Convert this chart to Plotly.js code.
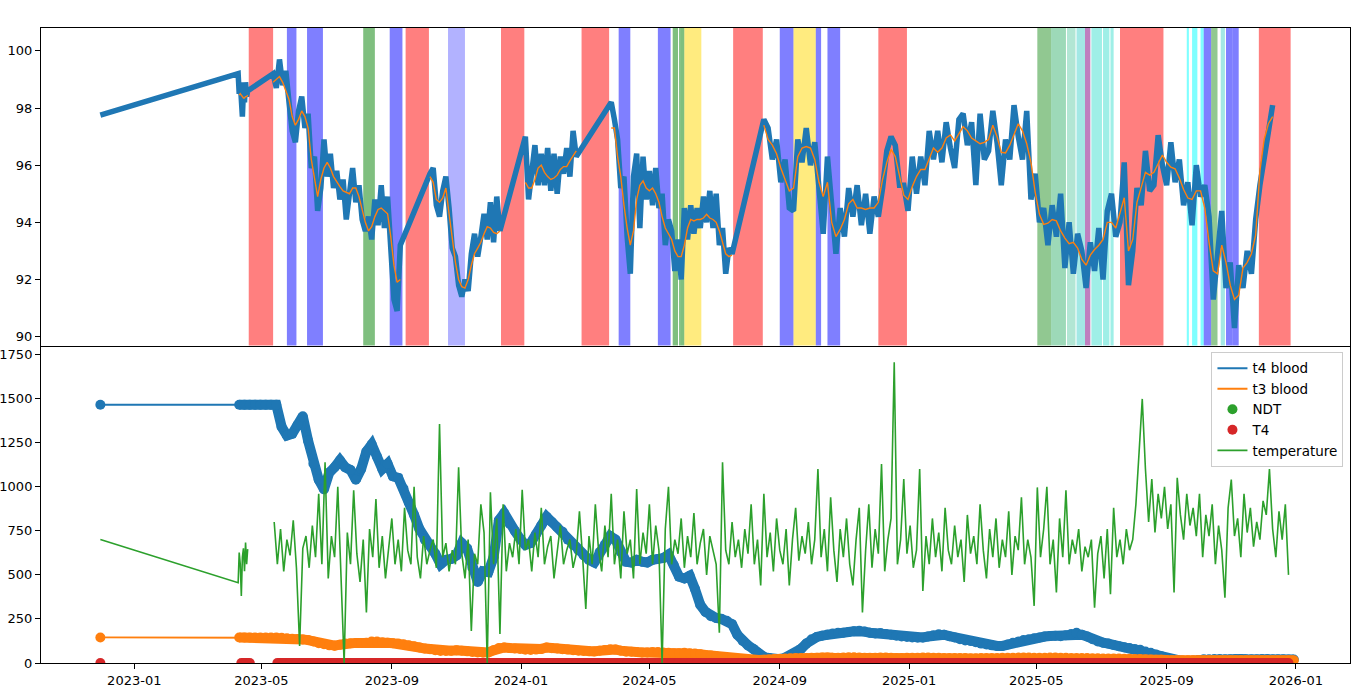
<!DOCTYPE html>
<html>
<head>
<meta charset="utf-8">
<script src="https://cdn.plot.ly/plotly-3.0.1.min.js"></script>
<style>
  html, body { margin: 0; padding: 0; background: #fff; }
  #chart { width: 1366px; height: 691px; }
</style>
</head>
<body>
<div id="chart"></div>
<script>
// Weight (top panel) and blood / temperature (bottom panel).
// Dense series are kept as runs of values sampled every `step` days from a start date.

// ---- top panel: shaded periods ----
const bandStart = ['2023-04-19','2023-05-25','2023-06-13','2023-08-05','2023-08-30','2023-09-14','2023-10-24','2023-12-13',
  '2024-02-27','2024-04-02','2024-05-09','2024-05-23','2024-05-29','2024-05-30','2024-06-03','2024-07-19','2024-09-01',
  '2024-09-14','2024-10-05','2024-10-16','2024-12-03','2025-05-02','2025-05-15','2025-05-30','2025-06-08','2025-06-16',
  '2025-06-22','2025-07-03','2025-07-10','2025-07-19','2025-09-20','2025-09-25','2025-10-03','2025-10-06','2025-10-13',
  '2025-10-22','2025-10-27','2025-11-02','2025-11-27'];
const bandEnd = ['2023-05-12','2023-06-03','2023-06-28','2023-08-16','2023-09-11','2023-10-06','2023-11-09','2024-01-04',
  '2024-03-24','2024-04-13','2024-05-21','2024-05-28','2024-05-30','2024-06-03','2024-06-19','2024-08-16','2024-09-14',
  '2024-10-05','2024-10-10','2024-10-28','2024-12-30','2025-05-15','2025-05-29','2025-06-07','2025-06-16','2025-06-21',
  '2025-07-02','2025-07-09','2025-07-13','2025-08-29','2025-09-22','2025-09-30','2025-10-06','2025-10-13','2025-10-19',
  '2025-10-26','2025-11-02','2025-11-08','2025-12-27'];
const bandKind = ['red','blue','blue','green','blue','red','lavender','red',
  'red','blue','blue','green','green','green','yellow','red','blue',
  'yellow','blue','blue','red','green2','seagreen','aquamarine','mturquoise','purple',
  'turquoise','turquoise','turquoise','red','cyan','cyan','cyan','blue','green2',
  'mturquoise','blue','blue','red'];

// ---- top panel: weight (thick) and its smoothed curve (thin) ----
const earlyDates = ['2022-11-30','2023-04-09','2023-04-10','2023-04-11','2023-04-12','2023-04-13',
  '2023-04-14','2023-04-15','2023-04-16','2023-04-17','2023-04-18'];
const earlyWeight = [97.75, 99.2, 98.5, 98.9, 98.3, 97.7, 98.6, 98.2, 98.9, 98.4, 98.6];
const earlySmooth = [null, null, 98.45, 98.5, 98.45, 98.4, 98.35, 98.35, 98.4, 98.4, 98.45];

const segStart = ['2023-05-12', '2023-10-07', '2024-01-05', '2024-03-26', '2024-08-17'];
const segStep = [3, 3, 3, 3, 4];

const weightB = [99.2, 98.7, 99.7, 98.8, 99.3, 98.2, 97.2, 96.8, 97.9, 98.4, 97.3, 97.8, 95.9, 96.3, 94.4, 95.2,
  96.9, 95.6, 96.4, 95.2, 95.8, 94.8, 95.5, 94.1, 95.2, 95.9, 94.7, 95.3, 94.1, 93.7, 94.2, 93.4, 94.8, 93.9,
  95.3, 93.8, 94.9, 92.9, 91.3, 90.9, 93.2];
const smoothB = [98.9, 99.0, 99.1, 98.9, 98.6, 98.3, 97.7, 97.4, 97.6, 97.9, 97.7, 97.3, 96.2, 95.5, 94.9, 95.5,
  95.9, 96.1, 95.9, 95.6, 95.4, 95.25, 95.1, 95.05, 95.0, 95.2, 95.2, 94.9, 94.4, 94.0, 93.7, 93.85, 94.2, 94.45,
  94.5, 94.4, 94.3, 93.5, 92.5, 91.9, 92.0];
const weightC = [95.7, 95.9, 94.6, 94.2, 95.1, 95.6, 94.5, 93.1, 92.8, 91.8, 91.4, 92.0, 91.6, 92.9, 93.6, 92.8,
  93.5, 94.3, 93.4, 94.7, 93.3, 94.9, 93.7];
const smoothC = [95.6, 95.4, 94.8, 94.7, 94.85, 95.2, 94.3, 93.5, 92.6, 92.0, 91.75, 91.7, 92.0, 92.5, 92.9, 93.1,
  93.3, 93.6, 93.85, 93.8, 93.65, 93.6, 93.7];
const weightD = [97.0, 94.8, 95.6, 96.7, 95.3, 96.4, 95.3, 96.6, 95.1, 96.4, 95.0, 96.3, 95.7, 96.6, 95.6, 97.2, 96.3];
const smoothD = [95.4, 95.2, 95.2, 95.5, 95.9, 96.0, 95.75, 95.6, 95.5, 95.55, 95.65, 95.85, 95.95, 95.95, 96.15,
  96.35, 96.5];
const weightE = [98.2, 97.6, 96.9, 95.2, 95.6, 93.5, 92.2, 95.6, 96.4, 93.8, 96.3, 94.8, 95.8, 94.6, 95.9, 94.5,
  95.0, 93.2, 94.1, 93.7, 92.3, 93.4, 92.0, 94.5, 93.4, 94.6, 93.6, 94.5, 93.8, 94.9, 94.0, 95.1, 93.8, 95.0,
  93.2, 93.8, 92.2, 93.1, 92.9];
const smoothE = [97.3, 97.3, 96.3, 95.6, 94.6, 93.8, 93.2, 93.7, 94.8, 95.3, 95.45, 95.2, 95.1, 95.2, 95.0, 94.7,
  94.2, 93.8, 93.6, 93.4, 93.0, 92.8, 92.8, 93.2, 93.8, 94.1, 94.05, 94.1, 94.1, 94.15, 94.28, 94.15, 94.1, 94.0,
  93.7, 93.3, 92.9, 92.8, 92.85];
const weightF = [
  97.6, 97.3, 96.2, 96.9, 95.4, 96.2, 94.5, 94.4, 96.9, 96.1,
  97.3, 96.0, 96.8, 95.2, 93.6, 96.3, 94.8, 92.9, 94.5, 93.5,
  95.2, 94.2, 95.3, 93.9, 95.0, 93.6, 94.9, 94.2, 95.2, 96.5,
  97.0, 96.7, 95.3, 95.3, 94.4, 96.3, 95.0, 96.3, 95.3, 97.2,
  96.2, 97.2, 96.1, 97.5, 96.6, 95.9, 97.6, 97.8, 96.7, 97.5,
  95.3, 97.8, 96.2, 96.5, 97.9, 96.8, 95.3, 96.9, 96.2, 98.1,
  97.0, 96.2, 97.9, 94.8, 95.7, 94.0, 94.5, 93.2, 94.6, 93.5,
  95.0, 92.4, 94.0, 92.2, 93.6, 93.0, 91.7, 93.3, 92.3, 93.8,
  92.0, 94.4, 95.0, 93.5, 94.0, 96.1, 91.8, 93.0, 95.2, 94.6,
  96.5, 95.1, 95.3, 97.05, 96.0, 95.3, 96.8, 95.4, 96.2, 94.6,
  95.4, 93.9, 96.0, 94.9, 95.3, 94.2, 91.3, 92.8, 94.4, 91.7,
  92.6, 90.3, 92.5, 91.7, 93.0, 92.2, 94.1, 95.3, 96.3, 97.1,
  98.1];
const smoothF = [
  97.4, 96.9, 96.7, 96.4, 95.9, 95.5, 95.1, 95.2, 96.3, 96.6,
  96.65, 96.6, 96.2, 95.4, 94.9, 95.4, 94.0, 93.5, 93.75, 94.1,
  94.65, 94.8, 94.5, 94.5, 94.45, 94.5, 94.5, 94.7, 95.5, 96.1,
  96.55, 96.3, 95.65, 94.95, 94.8, 95.25, 95.6, 95.85, 95.85, 96.2,
  96.6, 96.45, 96.6, 96.95, 97.06, 96.85, 97.1, 97.35, 97.2, 96.95,
  96.85, 96.75, 96.8, 96.9, 97.4, 97.0, 96.45, 96.43, 96.7, 97.05,
  97.45, 97.2, 96.75, 96.1, 95.05, 94.28, 93.93, 93.97, 94.1, 94.05,
  93.7, 93.45, 93.25, 93.3, 93.1, 92.7, 92.5, 92.85, 93.05, 93.2,
  93.4, 94.0, 94.0, 93.8, 94.3, 94.86, 93.0, 93.4, 94.7, 95.2,
  95.75, 95.65, 95.75, 96.05, 96.35, 96.1, 95.93, 95.87, 95.55, 95.15,
  94.85, 94.8, 95.1, 95.1, 94.5, 93.3, 92.3, 92.2, 93.2, 92.6,
  91.8, 91.3, 91.45, 92.4, 92.6, 92.9, 93.55, 95.8, 96.9, 97.45,
  97.7];

// ---- bottom panel: blood levels (first value on 2022-11-30, then every 5 days from 2023-04-10) ----
const bloodFirstDate = '2022-11-30';
const bloodStart = '2023-04-10';
const bloodStep = 5;
const t4Blood = [1465,
  1465, 1465, 1465, 1465, 1465, 1465, 1465, 1465, 1340, 1290,
  1300, 1350, 1400, 1260, 1130, 1040, 985, 1080, 1110, 1150,
  1110, 1095, 1040, 1100, 1200, 1240, 1170, 1100, 1130, 1060,
  1050, 990, 910, 840, 760, 700, 665, 620, 560, 585,
  590, 610, 680, 650, 540, 460, 520, 515, 600, 810,
  850, 790, 750, 705, 670, 680, 730, 780, 830, 800,
  770, 745, 700, 670, 640, 610, 585, 570, 630, 670,
  720, 700, 630, 575, 570, 585, 575, 570, 585, 590,
  595, 615, 555, 490, 480, 495, 420, 330, 290, 265,
  255, 250, 240, 220, 160, 125, 100, 80, 55, 35,
  28, 22, 22, 30, 42, 55, 80, 110, 135, 148,
  155, 162, 168, 172, 172, 176, 180, 183, 178, 172,
  168, 170, 165, 160, 155, 150, 148, 145, 143, 145,
  150, 158, 163, 160, 152, 145, 135, 128, 125, 118,
  110, 105, 100, 97, 97, 105, 115, 122, 130, 135,
  140, 145, 150, 153, 155, 152, 158, 165, 172, 160,
  150, 135, 122, 115, 110, 102, 95, 90, 85, 80,
  75, 65, 58, 48, 38, 28, 20, 14, 11, 11,
  13, 17, 21, 21, 22, 22, 21, 21, 22, 22,
  21, 21, 21, 22, 22, 21, 21, 21, 20, 20];
const t3Blood = [145,
  145, 145, 145, 145, 145, 145, 145, 145,
  143, 140, 138, 136, 134, 130, 122, 112, 106, 100,
  98, 104, 110, 112, 114, 113, 115, 122, 122, 118,
  115, 112, 110, 106, 100, 95, 88, 82, 78, 72,
  68, 68, 70, 72, 70, 66, 62, 60, 58, 60,
  72, 85, 88, 85, 82, 80, 75, 74, 76, 80,
  88, 84, 82, 78, 76, 72, 70, 68, 66, 66,
  70, 74, 78, 76, 70, 64, 64, 62, 60, 60,
  62, 62, 60, 58, 56, 56, 58, 56, 54, 50,
  46, 42, 38, 34, 30, 26, 22, 20, 18, 17,
  17, 18, 20, 22, 24, 26, 27, 28, 28, 29,
  30, 30, 31, 31, 30, 30, 31, 32, 32, 31,
  30, 30, 30, 31, 31, 30, 29, 29, 30, 30,
  30, 31, 31, 30, 30, 29, 29, 28, 28, 28,
  27, 27, 28, 28, 29, 29, 30, 30, 30, 31,
  31, 31, 30, 30, 30, 31, 31, 30, 30, 29,
  29, 28, 28, 27, 27, 26, 26, 25, 25, 24,
  24, 23, 22, 21, 20, 19, 18, 17, 16, 16,
  15, 15, 15, 15, 15, 15, 15, 15, 15, 15,
  15, 15, 15, 15, 15, 15, 15, 15, 15, 15, 15, 15];

// ---- bottom panel: T4 doses (on the axis) ----
const doseEarlyDates = ['2022-11-30', '2023-04-12', '2023-04-16', '2023-04-20'];
const doseStart = '2023-05-16';
const doseStep = 6;
const t4DoseEarly = [0, 0, 0, 0];
const t4Dose = [
  0,0,0,0,0,0,0,0,0,0, 0,0,0,0,0,0,0,0,0,0, 0,0,0,0,0,0,0,0,0,0, 0,0,0,0,0,0,0,0,0,0,
  0,0,0,0,0,0,0,0,0,0, 0,0,0,0,0,0,0,0,0,0, 0,0,0,0,0,0,0,0,0,0, 0,0,0,0,0,0,0,0,0,0,
  0,0,0,0,0,0,0,0,0,0, 0,0,0,0,0,0,0,0,0,0, 0,0,0,0,0,0,0,0,0,0, 0,0,0,0,0,0,0,0,0,0,
  0,0,0,0,0,0,0,0,0,0, 0,0,0,0,0,0,0,0,0,0, 0,0,0,0,0,0,0,0,0,0, 0,0,0,0,0,0,0,0,0,0];

// ---- bottom panel: temperature ----
const tempEarly = [700, 455, 627, 560, 380, 600, 650, 520, 684, 560, 646];
const tempStart = '2023-05-13';
const tempStep = 3;
const temperature = [
  800, 560, 760, 520, 700, 610, 810, 540, 97, 650,
  720, 540, 780, 600, 960, 560, 1138, 480, 720, 600,
  1000, 520, 0, 740, 560, 980, 620, 460, 700, 286,
  760, 600, 930, 540, 720, 480, 650, 820, 560, 700,
  520, 880, 640, 560, 1000, 600, 480, 720, 560, 640,
  700, 540, 1356, 600, 680, 520, 640, 560, 1110, 620,
  480, 700, 182, 620, 560, 900, 740, 0, 968, 560,
  820, 165, 900, 520, 680, 600, 760, 560, 982, 640,
  700, 520, 740, 600, 880, 560, 660, 720, 480, 640,
  780, 560, 640, 700, 540, 620, 860, 600, 307, 720,
  560, 900, 640, 520, 780, 600, 960, 560, 700, 480,
  860, 620, 700, 480, 987, 560, 740, 620, 900, 560,
  780, 640, 0, 760, 1000, 560, 700, 620, 820, 540,
  720, 600, 850, 560, 680, 760, 500, 720, 640, 560,
  172, 1138, 640, 560, 800, 600, 700, 540, 760, 620,
  900, 560, 700, 440, 960, 600, 740, 520, 820, 640,
  560, 760, 440, 700, 880, 580, 720, 620, 800, 560,
  700, 1100, 600, 760, 520, 940, 640, 460, 760, 600,
  820, 560, 440, 700, 880, 286, 640, 900, 540, 760,
  620, 1129, 520, 700, 820, 1706, 560, 700, 1044, 620,
  780, 540, 640, 1100, 409, 720, 560, 820, 600, 740,
  520, 880, 640, 560, 780, 600, 700, 460, 840, 620,
  720, 560, 900, 640, 480, 760, 600, 820, 540, 700,
  600, 860, 500, 720, 640, 940, 560, 700, 600, 324,
  996, 600, 760, 1000, 560, 700, 400, 820, 600, 980,
  560, 700, 620, 760, 520, 660, 600, 700, 314, 620,
  720, 480, 760, 390, 880, 600, 700, 560, 760, 640,
  700, 900, 1195, 1498, 1100, 800, 1044, 740, 960, 820,
  1000, 760, 900, 400, 1050, 840, 700, 960, 780, 880,
  720, 960, 600, 840, 720, 900, 560, 780, 640, 371,
  880, 1040, 720, 820, 600, 960, 740, 880, 660, 800,
  700, 920, 840, 1100, 760, 600, 860, 700, 900, 500];

// ---- styling ----
const BAND_COLORS = {
  red: 'rgba(255,0,0,0.5)',
  blue: 'rgba(0,0,255,0.5)',
  lavender: 'rgba(0,0,255,0.3)',
  green: 'rgba(0,128,0,0.5)',
  green2: 'rgba(0,128,0,0.43)',
  yellow: 'rgba(255,215,0,0.5)',
  seagreen: 'rgba(60,179,113,0.5)',
  aquamarine: 'rgba(102,205,170,0.5)',
  mturquoise: 'rgba(72,209,204,0.5)',
  purple: 'rgba(128,0,128,0.5)',
  turquoise: 'rgba(64,224,208,0.5)',
  cyan: 'rgba(0,255,255,0.5)',
};
const C_BLUE = '#1f77b4', C_ORANGE = '#ff7f0e', C_GREEN = '#2ca02c', C_RED = '#d62728';
const FONT = 'DejaVu Sans, Liberation Sans, sans-serif';
const DOT = 10;   // marker diameter of the dense daily series

function addDays(iso, n) {
  const t = Date.parse(iso + 'T00:00:00Z') + n * 86400000;
  return new Date(t).toISOString().slice(0, 10);
}
const stepped = (start, step, values) => values.map((_, i) => addDays(start, i * step));

// assemble top series
const segWeight = [weightB, weightC, weightD, weightE, weightF];
const segSmooth = [smoothB, smoothC, smoothD, smoothE, smoothF];
const weightX = [...earlyDates], weightY = [...earlyWeight];
const smoothX = [...earlyDates], smoothY = [...earlySmooth];
segStart.forEach((start, i) => {
  const dates = stepped(start, segStep[i], segWeight[i]);
  weightX.push(...dates);
  weightY.push(...segWeight[i]);
  smoothX.push(start);          // break the smoothed curve across the gap
  smoothY.push(null);
  smoothX.push(...dates);
  smoothY.push(...segSmooth[i]);
});

// bottom series
const denseBloodX = stepped(bloodStart, bloodStep, t4Blood.slice(1));
const bloodX = [bloodFirstDate, ...denseBloodX];
const denseDoseX = stepped(doseStart, doseStep, t4Dose);
const doseX = [...doseEarlyDates, ...denseDoseX];
const doseY = [...t4DoseEarly, ...t4Dose];
const doseBandX = [...doseEarlyDates.slice(1), doseStart, ...denseDoseX];
const doseBandY = [...t4DoseEarly.slice(1), null, ...t4Dose];
const tempX = [...earlyDates, tempStart, ...stepped(tempStart, tempStep, temperature)];
const tempY = [...tempEarly, null, ...temperature];

const shapes = bandStart.map((s, i) => ({
  type: 'rect', xref: 'x', yref: 'y domain', x0: s, x1: bandEnd[i], y0: 0, y1: 1,
  fillcolor: BAND_COLORS[bandKind[i]], line: { width: 0 }, layer: 'below',
}));

// daily readings sit so close that their dots merge into one band: draw that band as a thick line
const band = (x, y, color) => ({
  type: 'scatter', mode: 'lines', x, y, xaxis: 'x2', yaxis: 'y2', connectgaps: false,
  line: { color, width: DOT, shape: 'linear' }, showlegend: false, hoverinfo: 'skip',
});

const data = [
  { type: 'scatter', mode: 'lines', x: weightX, y: weightY, xaxis: 'x', yaxis: 'y',
    line: { color: C_BLUE, width: 5.5 }, showlegend: false, hoverinfo: 'skip' },
  { type: 'scatter', mode: 'lines', x: smoothX, y: smoothY, xaxis: 'x', yaxis: 'y',
    line: { color: C_ORANGE, width: 1.4 }, connectgaps: false, showlegend: false, hoverinfo: 'skip' },
  band(denseBloodX, t4Blood.slice(1), C_BLUE),
  { type: 'scatter', mode: 'lines+markers', x: bloodX, y: t4Blood, xaxis: 'x2', yaxis: 'y2',
    line: { color: C_BLUE, width: 1.8 }, marker: { color: C_BLUE, size: DOT }, showlegend: false },
  band(denseBloodX, t3Blood.slice(1), C_ORANGE),
  { type: 'scatter', mode: 'lines+markers', x: bloodX, y: t3Blood, xaxis: 'x2', yaxis: 'y2',
    line: { color: C_ORANGE, width: 1.8 }, marker: { color: C_ORANGE, size: DOT }, showlegend: false },
  { type: 'scatter', mode: 'lines', name: 't4 blood', x: [null], y: [null], xaxis: 'x2', yaxis: 'y2',
    line: { color: C_BLUE, width: 2 } },
  { type: 'scatter', mode: 'lines', name: 't3 blood', x: [null], y: [null], xaxis: 'x2', yaxis: 'y2',
    line: { color: C_ORANGE, width: 2 } },
  { type: 'scatter', mode: 'markers', name: 'NDT', x: [null], y: [null], xaxis: 'x2', yaxis: 'y2',
    marker: { color: C_GREEN, size: DOT } },
  band(doseBandX, doseBandY, C_RED),
  { type: 'scatter', mode: 'markers', name: 'T4', x: doseX, y: doseY, xaxis: 'x2', yaxis: 'y2',
    marker: { color: C_RED, size: DOT } },
  { type: 'scatter', mode: 'lines', name: 'temperature', x: tempX, y: tempY, xaxis: 'x2', yaxis: 'y2',
    line: { color: C_GREEN, width: 1.6 }, connectgaps: false },
];

const axisBase = {
  showline: true, mirror: true, linecolor: '#000', linewidth: 1,
  showgrid: false, zeroline: false,
  ticks: 'outside', ticklen: 5, tickwidth: 1, tickcolor: '#000',
  tickfont: { family: FONT, size: 13, color: '#000' },
};
const xRange = ['2022-10-05', '2026-02-21'];

const layout = {
  width: 1366, height: 691,
  margin: { l: 41, r: 16, t: 28, b: 28 },
  paper_bgcolor: '#fff', plot_bgcolor: '#fff',
  font: { family: FONT, size: 13, color: '#000' },
  shapes,
  xaxis: { ...axisBase, type: 'date', anchor: 'y', range: xRange, showticklabels: false, ticks: '' },
  // the top panel's lower edge already separates the panels, so no mirrored line here
  xaxis2: { ...axisBase, mirror: false, type: 'date', anchor: 'y2', matches: 'x', range: xRange,
    tick0: '2023-01-01', dtick: 'M4', tickformat: '%Y-%m' },
  yaxis: { ...axisBase, domain: [0.5, 1], anchor: 'x', range: [89.69, 100.8], dtick: 2, tick0: 90 },
  yaxis2: { ...axisBase, domain: [0, 0.5], anchor: 'x2', range: [0, 1801], dtick: 250, tick0: 0, tickformat: 'd' },
  showlegend: true,
  legend: {
    x: 0.995, y: 0.49, xanchor: 'right', yanchor: 'top',
    bgcolor: 'rgba(255,255,255,0.8)', bordercolor: '#cccccc', borderwidth: 1,
    font: { family: FONT, size: 13.5, color: '#000' },
  },
};

Plotly.newPlot('chart', data, layout, { displayModeBar: false, staticPlot: true });
</script>
</body>
</html>
